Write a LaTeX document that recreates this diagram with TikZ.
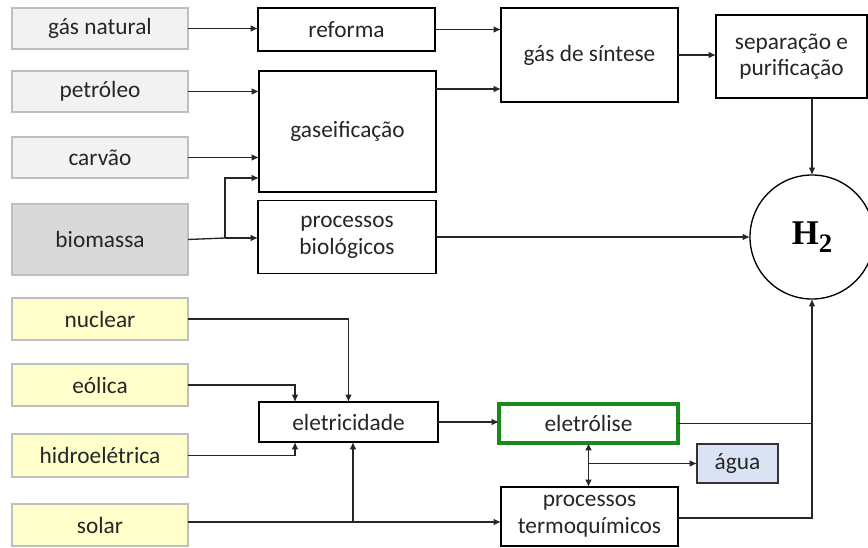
\documentclass[tikz,border=0pt]{standalone}
\usepackage{fontspec}
\setmainfont{Carlito}
\newfontfamily\hfont{Liberation Serif}
\usetikzlibrary{arrows.meta}
\definecolor{txt}{HTML}{262626}
\definecolor{gbord}{HTML}{BFBFBF}
\definecolor{gfill}{HTML}{F2F2F2}
\definecolor{bfill}{HTML}{D9D9D9}
\definecolor{yfill}{HTML}{FFFFCC}
\definecolor{afill}{HTML}{DAE3F3}
\definecolor{grn}{HTML}{1A8A1A}
\tikzset{
  base/.style={rectangle, inner sep=0pt, outer sep=0pt, align=center, text=txt,
    font=\fontsize{17.5}{20}\selectfont},
  src/.style={base, draw=gbord, fill=gfill, line width=1pt, minimum width={176*0.75pt}},
  ysrc/.style={src, fill=yfill},
  proc/.style={base, draw=black, line width=1pt},
  conn/.style={draw=black!85, line width=1pt},
  arr/.style={conn, -{Latex[length=5.5pt,width=5pt]}},
  darr/.style={conn, {Latex[length=5.5pt,width=5pt]}-{Latex[length=5.5pt,width=5pt]}},
}
\begin{document}
\begin{tikzpicture}[x=0.75pt,y=-0.75pt]
\useasboundingbox (0,0) rectangle (868,547);
% sources
\node[src, minimum height={41*0.75pt}] (gn) at (100,28.5) {gás natural};
\node[src, minimum height={41*0.75pt}] (pe) at (100,91.5) {petróleo};
\node[src, minimum height={41*0.75pt}] (ca) at (100,157.5) {carvão};
\node[src, fill=bfill, minimum height={71*0.75pt}] (bi) at (100,239.5) {biomassa};
\node[ysrc, minimum height={42*0.75pt}] (nu) at (100,319) {nuclear};
\node[ysrc, minimum height={42*0.75pt}] (eo) at (100,385) {eólica};
\node[ysrc, minimum height={43*0.75pt}] (hi) at (100,455.5) {hidroelétrica};
\node[ysrc, minimum height={42*0.75pt}] (so) at (100,525) {solar};
% processes
\node[proc, minimum width={177*0.75pt}, minimum height={43*0.75pt}] (ref) at (346.5,29.5) {reforma};
\node[proc, minimum width={177*0.75pt}, minimum height={121*0.75pt}] (gas) at (347.5,131.5) {gaseificação};
\node[proc, minimum width={178*0.75pt}, minimum height={73*0.75pt}] (pb) at (347,237) {processos\\biológicos};
\node[proc, minimum width={179*0.75pt}, minimum height={40*0.75pt}] (ele) at (348.5,422) {eletricidade};
\node[proc, minimum width={177*0.75pt}, minimum height={94*0.75pt}] (gs) at (589.5,55) {gás de síntese};
\node[proc, minimum width={151*0.75pt}, minimum height={83*0.75pt}] (sep) at (791.5,56.5) {separação e\\purificação};
\node[proc, circle, minimum size={124*0.75pt}] (h2) at (812,237) {\hfont\fontsize{26}{28}\selectfont\bfseries\color{black}H\raisebox{-0.22em}{\fontsize{20}{22}\selectfont 2}};
\node[proc, draw=grn, line width=2.4pt, minimum width={179*0.75pt}, minimum height={39*0.75pt}] (elt) at (588.5,423.5) {eletrólise};
\node[proc, fill=afill, draw=black!80, minimum width={81*0.75pt}, minimum height={39*0.75pt}] (agua) at (737.5,463.5) {água};
\node[proc, minimum width={177*0.75pt}, minimum height={59*0.75pt}] (pt) at (589.5,516.5) {processos\\termoquímicos};
% connectors
\draw[arr] (gn.east) -- (gn.east -| ref.west);
\draw[arr] (ref.east) -- (ref.east -| gs.west);
\draw[arr] (pe.east) -- (pe.east -| gas.west);
\draw[arr] (gas.east |- 0,89) -- (gs.west |- 0,89);
\draw[arr] (ca.east) -- (ca.east -| gas.west);
\coordinate (bj) at (225,238);
\draw[conn] (bi.east) -- (bj);
\draw[arr] (bj) |- (gas.west |- 0,178);
\draw[arr] (bj) -- (bj -| pb.west);
\draw[arr] (pb.east) -- (pb.east -| h2.west);
\draw[arr] (gs.east) -- (gs.east -| sep.west);
\draw[arr] (h2.north |- sep.south) -- (h2.north);
\draw[arr] (nu.east) -| (ele.north);
\draw[arr] (eo.east) -| (ele.north -| 295,0);
\draw[arr] (hi.east) -| (ele.south -| 295,0);
\coordinate (sj) at (353,522);
\draw[arr] (so.east |- sj) -- (sj -| pt.west);
\draw[arr] (sj) -- (ele.south -| sj);
\draw[arr] (ele.east) -- (ele.east -| elt.west);
\draw[conn] (elt.east) -- (elt.east -| h2.south);
\draw[arr] (pt.east |- 0,518) -| (h2.south);
\draw[darr] (elt.south) -- (elt.south |- pt.north);
\draw[arr] (elt.south |- agua.west) -- (agua.west);
\end{tikzpicture}
\end{document}
